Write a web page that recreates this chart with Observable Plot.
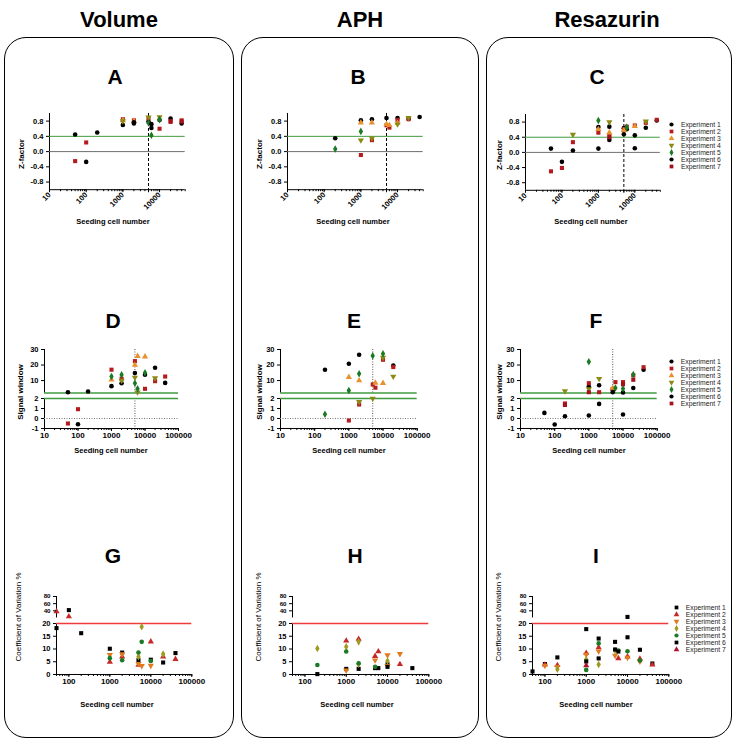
<!DOCTYPE html>
<html><head><meta charset="utf-8">
<script src="https://cdn.jsdelivr.net/npm/d3@7"></script>
<script src="https://cdn.jsdelivr.net/npm/@observablehq/plot@0.6"></script>
<style>
body{margin:0;background:#fff;}
#fig{position:relative;width:736px;height:742px;font-family:"Liberation Sans",Arial,sans-serif;overflow:hidden;background:#fff;}
.box{position:absolute;border:1.8px solid #000;border-radius:22px;box-sizing:border-box;}
</style></head>
<body><div id="fig"></div>
<script>
// ---------------- data ----------------
const expNames = ["Experiment 1","Experiment 2","Experiment 3","Experiment 4","Experiment 5","Experiment 6","Experiment 7"];
const columnTitles = ["Volume","APH","Resazurin"];
const panelLetters = ["A","B","C","D","E","F","G","H","I"];

// [seeding cell number, experiment, value]
const zVolume = [[50,1,0.45],[50,2,-0.25],[100,2,0.24],[100,1,-0.27],[200,1,0.50],[1000,1,0.70],[1000,3,0.82],[1000,4,0.80],[1000,2,0.85],[2000,1,0.74],[2000,6,0.77],[2000,3,0.80],[2000,2,0.82],[5000,1,0.79],[5000,5,0.75],[5000,2,0.87],[5000,4,0.90],[6000,6,0.72],[6000,1,0.62],[6000,5,0.43],[10000,2,0.60],[10000,5,0.84],[10000,1,0.83],[10000,4,0.91],[20000,7,0.80],[20000,2,0.78],[20000,1,0.87],[40000,1,0.74],[40000,7,0.79],[40000,2,0.82]];
const zAPH = [[200,1,0.35],[200,5,0.07],[1000,2,-0.09],[1000,4,0.30],[1000,5,0.53],[1000,3,0.76],[1000,1,0.82],[2000,2,0.30],[2000,4,0.35],[2000,3,0.76],[2000,1,0.85],[5000,3,0.72],[5000,2,0.69],[5000,1,0.88],[6000,3,0.69],[6000,2,0.63],[10000,4,0.72],[10000,3,0.75],[10000,2,0.83],[10000,1,0.88],[20000,4,0.89],[20000,2,0.85],[20000,1,0.86],[40000,1,0.91]];
const zRes = [[50,1,0.10],[50,2,-0.50],[100,1,-0.25],[100,2,-0.41],[200,4,0.47],[200,2,0.27],[200,1,0.05],[1000,5,0.84],[1000,1,0.67],[1000,3,0.61],[1000,2,0.52],[1000,6,0.10],[2000,4,0.80],[2000,1,0.68],[2000,3,0.52],[2000,2,0.45],[2000,7,0.40],[2000,6,0.33],[5000,6,0.48],[5000,1,0.64],[5000,3,0.58],[5000,2,0.61],[6000,1,0.61],[6000,2,0.68],[6000,5,0.66],[10000,6,0.11],[10000,1,0.45],[10000,3,0.69],[10000,2,0.71],[20000,1,0.65],[20000,4,0.82],[20000,2,0.78],[40000,1,0.84],[40000,2,0.86]];

const swVolume = [[50,1,2.5],[50,2,-0.5],[100,2,0.93],[100,1,-0.57],[200,1,3.0],[1000,1,6.4],[1000,3,10.5],[1000,5,12.6],[1000,2,17],[2000,1,8.3],[2000,4,10],[2000,2,11.2],[2000,5,13.7],[5000,5,8.3],[5000,4,12],[5000,1,14.8],[5000,3,20],[5000,2,22.5],[6000,4,2.5],[6000,5,4.7],[6000,3,25.7],[10000,2,4.7],[10000,1,13.7],[10000,5,15],[10000,3,25.4],[20000,2,9.6],[20000,4,11.6],[20000,1,18.3],[40000,1,8.5],[40000,2,12.6]];
const swAPH = [[200,1,17],[200,5,0.43],[1000,2,-0.2],[1000,5,3.6],[1000,3,12.2],[1000,1,20.8],[2000,2,1.4],[2000,4,1.66],[2000,3,10],[2000,5,14.4],[2000,1,26.6],[5000,4,2.0],[5000,2,7.5],[5000,5,26],[6000,2,5.4],[6000,3,8.5],[10000,3,8.3],[10000,2,23.4],[10000,4,24.8],[10000,5,27.3],[20000,4,12.6],[20000,2,18.7],[20000,1,19.7]];
const swRes = [[50,1,0.56],[100,1,-0.6],[200,1,0.23],[200,7,1.35],[200,2,1.5],[200,4,3.2],[1000,6,0.3],[1000,7,2.5],[1000,4,4.5],[1000,1,6.2],[1000,2,8.3],[1000,5,22.1],[2000,6,1.46],[2000,2,2.5],[2000,1,7],[2000,4,11.2],[5000,6,2.5],[5000,1,4],[5000,2,4.6],[5000,3,5.2],[6000,5,5.2],[6000,2,9],[10000,6,0.4],[10000,1,2.3],[10000,5,4.7],[10000,7,7.6],[10000,2,9],[20000,1,5.2],[20000,7,10.5],[20000,2,13.3],[20000,5,13.9],[40000,1,17],[40000,2,18.6]];

const cvVolume = [[50,1,18.2],[50,2,38],[100,1,42],[100,2,24],[200,1,16.2],[1000,2,4.9],[1000,5,6.4],[1000,3,7.7],[1000,1,10.1],[2000,5,5.6],[2000,2,7.0],[2000,3,8.0],[2000,1,8.6],[5000,2,3.7],[5000,3,4.2],[5000,1,5.6],[5000,4,7.0],[5000,5,8.6],[6000,3,3.4],[6000,5,12.8],[6000,4,18.7],[10000,3,3.5],[10000,5,5.3],[10000,1,5.8],[10000,2,12.9],[20000,1,4.7],[20000,2,7.0],[20000,4,8.0],[40000,2,6.0],[40000,1,8.4]];
const cvAPH = [[200,1,0.15],[200,5,3.7],[200,4,10.2],[1000,3,1.6],[1000,1,2.2],[1000,5,9.0],[1000,4,10.9],[1000,2,13.2],[2000,1,2.2],[2000,4,4.0],[2000,5,4.4],[2000,4,12.8],[2000,2,13.9],[5000,1,2.5],[5000,5,3.0],[5000,3,5.6],[5000,2,7.2],[6000,1,2.5],[6000,2,9.0],[10000,6,3.0],[10000,3,3.4],[10000,1,4.0],[10000,4,5.3],[10000,3,7.6],[20000,2,4.0],[20000,3,8.1],[40000,1,2.5]];
const cvRes = [[50,1,1.2],[100,3,3.5],[100,2,3.8],[100,1,4.1],[200,4,2.1],[200,3,3.0],[200,2,3.6],[200,1,6.7],[1000,5,1.8],[1000,7,3.5],[1000,6,5.1],[1000,4,5.9],[1000,3,7.8],[1000,2,8.4],[1000,1,17.8],[2000,4,3.9],[2000,6,6.3],[2000,3,9.1],[2000,2,10.6],[2000,5,12.2],[2000,1,14.1],[5000,3,7.4],[5000,4,9.4],[5000,6,9.8],[5000,1,12.8],[6000,2,6.3],[6000,6,9.0],[6000,5,9.4],[10000,3,6.6],[10000,2,7.0],[10000,5,9.1],[10000,6,14.6],[10000,1,23],[20000,3,5.1],[20000,5,5.5],[20000,2,6.1],[20000,1,9.7],[40000,2,3.8],[40000,1,4.3]];

// axes
const zXDomain = [10, 50000], zXTicks = [10,100,1000,5000,10000];
const zYDomain = [-1, 1], zYTicks = [-0.8,-0.4,0,0.4,0.8];
const swXDomain = [10, 100000], swXTicks = [10,100,1000,10000,100000];
const swTopDomain = [2, 30], swTopTicks = [10,20,30];
const swBotDomain = [-1, 2], swBotTicks = [-1,0,1,2];
const cvXDomain = [50, 100000], cvXTicks = [100,1000,10000,100000];
const cvTopDomain = [20, 80], cvTopTicks = [40,60,80];
const cvBotDomain = [0, 20], cvBotTicks = [0,5,10,15,20];
// reference lines
const zCut = [0.4], zZero = [0], swCut = [2], swZero = [0], cvCut = [20], refSeeding = [5000];

// ---------------- styling ----------------
const triDown = {draw(ctx, size){ const s3 = Math.sqrt(3); const y = -Math.sqrt(size/(s3*3)); ctx.moveTo(0,-2*y); ctx.lineTo(-s3*y, y); ctx.lineTo(s3*y, y); ctx.closePath(); }};
const symZ = ["circle","square","triangle",triDown,"diamond","circle","square"];
const colZ = ["#000000","#b51a1e","#e8912d","#8c8a16","#1b7a24","#000000","#a3121c"];
const symCV = ["square","triangle",triDown,"diamond","circle","square","triangle"];
const colCV = ["#000000","#c62828","#e07a1f","#a09a20","#1b7a24","#000000","#b0102a"];
const FONT = "'Liberation Sans', Arial, sans-serif";
const green = "#3f9b3f";

const fig = document.getElementById("fig");

function minorTicks(lo, hi){ const t=[]; for(let p=0;p<=5;p++) for(let m=1;m<10;m++){ const v=m*Math.pow(10,p); if(v>=lo && v<=hi) t.push(v);} return t; }

function seg(o){
  const mL = 36, mR = 8, mT = 6, mB = o.xTicks ? 28 : 4;
  const W = o.x1 - o.x0 + mL + mR, H = o.yB - o.yT + mT + mB;
  const marks = [];
  marks.push(Plot.ruleX([o.xDomain[0]], {stroke:"#000", strokeWidth:1}));
  if (o.xTicks) marks.push(Plot.ruleY([o.yDomain[0]], {stroke:"#000", strokeWidth:1}));
  marks.push(...(o.under || []));
  for (let e = 1; e <= 7; e++) {
    const pts = o.data.filter(d => d[1] === e && o.keep(d[2]));
    marks.push(Plot.dot(pts, {x: d => d[0], y: d => d[2], symbol: o.sym[e-1], fill: o.col[e-1], stroke: "none", r: 2.3}));
  }
  marks.push(Plot.axisY(o.yTicks, {tickSize:3, tickPadding:3, tickFormat: o.yFormat, fontSize: o.yFont || 7.5, fontWeight:"bold", label:null}));
  if (o.xTicks) {
    marks.push(Plot.axisX(minorTicks(o.xDomain[0], o.xDomain[1]), {tickSize:2, tickFormat: () => "", label:null}));
    marks.push(Plot.axisX(o.xTicks, {tickSize:3, tickPadding:1, tickRotate: o.rotate || 0, tickFormat: d => String(d), fontSize: o.rotate ? 7.5 : 8, fontWeight:"bold", label:null}));
  }
  const svg = Plot.plot({
    width: W, height: H, marginLeft: mL, marginRight: mR, marginTop: mT, marginBottom: mB,
    x: {type:"log", domain: o.xDomain, ...(o.xTicks ? {} : {axis:null})},
    y: {domain: o.yDomain},
    style: {fontFamily: FONT, fontSize:"7.5px", fontWeight:"bold", color:"#000", background:"transparent", overflow:"visible"},
    marks
  });
  svg.style.position = "absolute";
  svg.style.left = (o.x0 - mL) + "px";
  svg.style.top = (o.yT - mT) + "px";
  fig.appendChild(svg);
}

function legend(mx, tx, y0, y1, sym, col){
  const pad = 6, W = tx - mx + 70 + pad, H = y1 - y0 + 2*pad;
  const marks = expNames.map((n,i) => Plot.dot([n], {x: () => 0, y: d => d, symbol: sym[i], fill: col[i], stroke:"none", r:2.1}));
  marks.push(Plot.text(expNames, {x: () => 1, y: d => d, text: d => d, textAnchor:"start", fontSize:6.8, fill:"#222"}));
  const svg = Plot.plot({
    width: W, height: H, margin: 0,
    x: {domain:[0,1], range:[pad, pad + tx - mx], axis:null},
    y: {type:"point", domain: expNames, range:[pad, H - pad], axis:null},
    style: {fontFamily: FONT, color:"#000", background:"transparent", overflow:"visible"},
    marks
  });
  svg.style.position = "absolute";
  svg.style.left = (mx - pad) + "px";
  svg.style.top = (y0 - pad) + "px";
  fig.appendChild(svg);
}

function text(t, cx, cy, size, weight, rot){
  const d = document.createElement("div");
  d.textContent = t;
  d.style.cssText = `position:absolute;left:${cx}px;top:${cy}px;transform:translate(-50%,-50%) rotate(${rot||0}deg);font-size:${size}px;font-weight:${weight};white-space:nowrap;line-height:1;color:#000;`;
  fig.appendChild(d);
}

// boxes
[[3.5,37,230,701],[241,37,237.5,701],[486,37,245.5,701]].forEach(([l,t,w,h]) => {
  const b = document.createElement("div"); b.className = "box";
  b.style.left = l+"px"; b.style.top = t+"px"; b.style.width = w+"px"; b.style.height = h+"px";
  fig.appendChild(b);
});

// titles & letters
text(columnTitles[0], 119, 20, 22, "bold");
text(columnTitles[1], 360, 20, 22, "bold");
text(columnTitles[2], 607, 20, 22, "bold");
const letterPos = [[115,76],[358,76],[597,76],[113,320],[354,320],[596,320],[113,555],[355,555],[596,555]];
panelLetters.forEach((L,i) => text(L, letterPos[i][0], letterPos[i][1], 21, "bold"));

// ---------------- Z-factor panels ----------------
const zUnder = () => [
  Plot.ruleY(zZero, {stroke:"#6e6e6e", strokeWidth:1}),
  Plot.ruleY(zCut, {stroke:green, strokeWidth:1}),
  Plot.ruleX(refSeeding, {stroke:"#000", strokeWidth:1, strokeDasharray:"3,2"})
];
const zFmt = d => d.toFixed(1);
[[zVolume,48.9,184.6,112.6,188.8],[zAPH,286.6,422.3,112.6,188.8],[zRes,525.3,660.1,114.1,189.9]].forEach(([data,x0,x1,yT,yB]) => {
  seg({x0,x1,yT,yB,xDomain:zXDomain,yDomain:zYDomain,data,sym:symZ,col:colZ,keep:()=>true,yTicks:zYTicks,yFormat:zFmt,xTicks:zXTicks,rotate:-45,under:zUnder()});
});

// ---------------- Signal window panels ----------------
[[swVolume,44.3,178.3],[swAPH,280,416.7],[swRes,520,656.7]].forEach(([data,x0,x1]) => {
  seg({x0,x1,yT:349,yB:392.5,xDomain:swXDomain,yDomain:swTopDomain,data,sym:symZ,col:colZ,keep:v=>v>2,yTicks:swTopTicks,yFormat:d=>String(d),
    under:[Plot.ruleX(refSeeding,{stroke:"#555",strokeWidth:1,strokeDasharray:"1,1.5"}), Plot.ruleY(swCut,{stroke:green,strokeWidth:1.3})]});
  seg({x0,x1,yT:398.3,yB:428.3,xDomain:swXDomain,yDomain:swBotDomain,data,sym:symZ,col:colZ,keep:v=>v<=2,yTicks:swBotTicks,yFormat:d=>String(d),xTicks:swXTicks,
    under:[Plot.ruleX(refSeeding,{stroke:"#555",strokeWidth:1,strokeDasharray:"1,1.5"}), Plot.ruleY(swZero,{stroke:"#777",strokeWidth:1,strokeDasharray:"1,1.5"}), Plot.ruleY(swCut,{stroke:green,strokeWidth:1.3})]});
});

// ---------------- CV panels ----------------
[[cvVolume,55.7,191],[cvAPH,292.3,428.6],[cvRes,532,668.3]].forEach(([data,x0,x1]) => {
  seg({x0,x1,yT:595.7,yB:617.2,xDomain:cvXDomain,yDomain:cvTopDomain,data,sym:symCV,col:colCV,keep:v=>v>20,yTicks:cvTopTicks,yFormat:d=>String(d),yFont:6.2});
  seg({x0,x1,yT:622.7,yB:673.7,xDomain:cvXDomain,yDomain:cvBotDomain,data,sym:symCV,col:colCV,keep:v=>v<=20,yTicks:cvBotTicks,yFormat:d=>String(d),xTicks:cvXTicks,
    under:[Plot.ruleY(cvCut,{stroke:"#ef3b3b",strokeWidth:1.5})]});
});

// axis titles
[[21.7,154],[260,154],[500,155]].forEach(([x,y]) => text("Z-factor", x, y, 8, "bold", -90));
[[21,392],[260,392],[500,392]].forEach(([x,y]) => text("Signal window", x, y, 8, "bold", -90));
[[19,617],[259,617],[499,617]].forEach(([x,y]) => text("Coefficient of Variation %", x, y, 8, "normal", -90));
[[113,222],[353,222],[591,222],[111,451],[349,451],[589,451],[117,705],[357,705],[596,705]].forEach(([x,y]) => text("Seeding cell number", x, y, 7.5, "bold"));

// legends
legend(671.3, 680.7, 117.7, 172.3, symZ, colZ);
legend(670.7, 680, 355, 408.3, symZ, colZ);
legend(675.7, 685, 600.7, 654.3, symCV, colCV);
</script></body></html>
